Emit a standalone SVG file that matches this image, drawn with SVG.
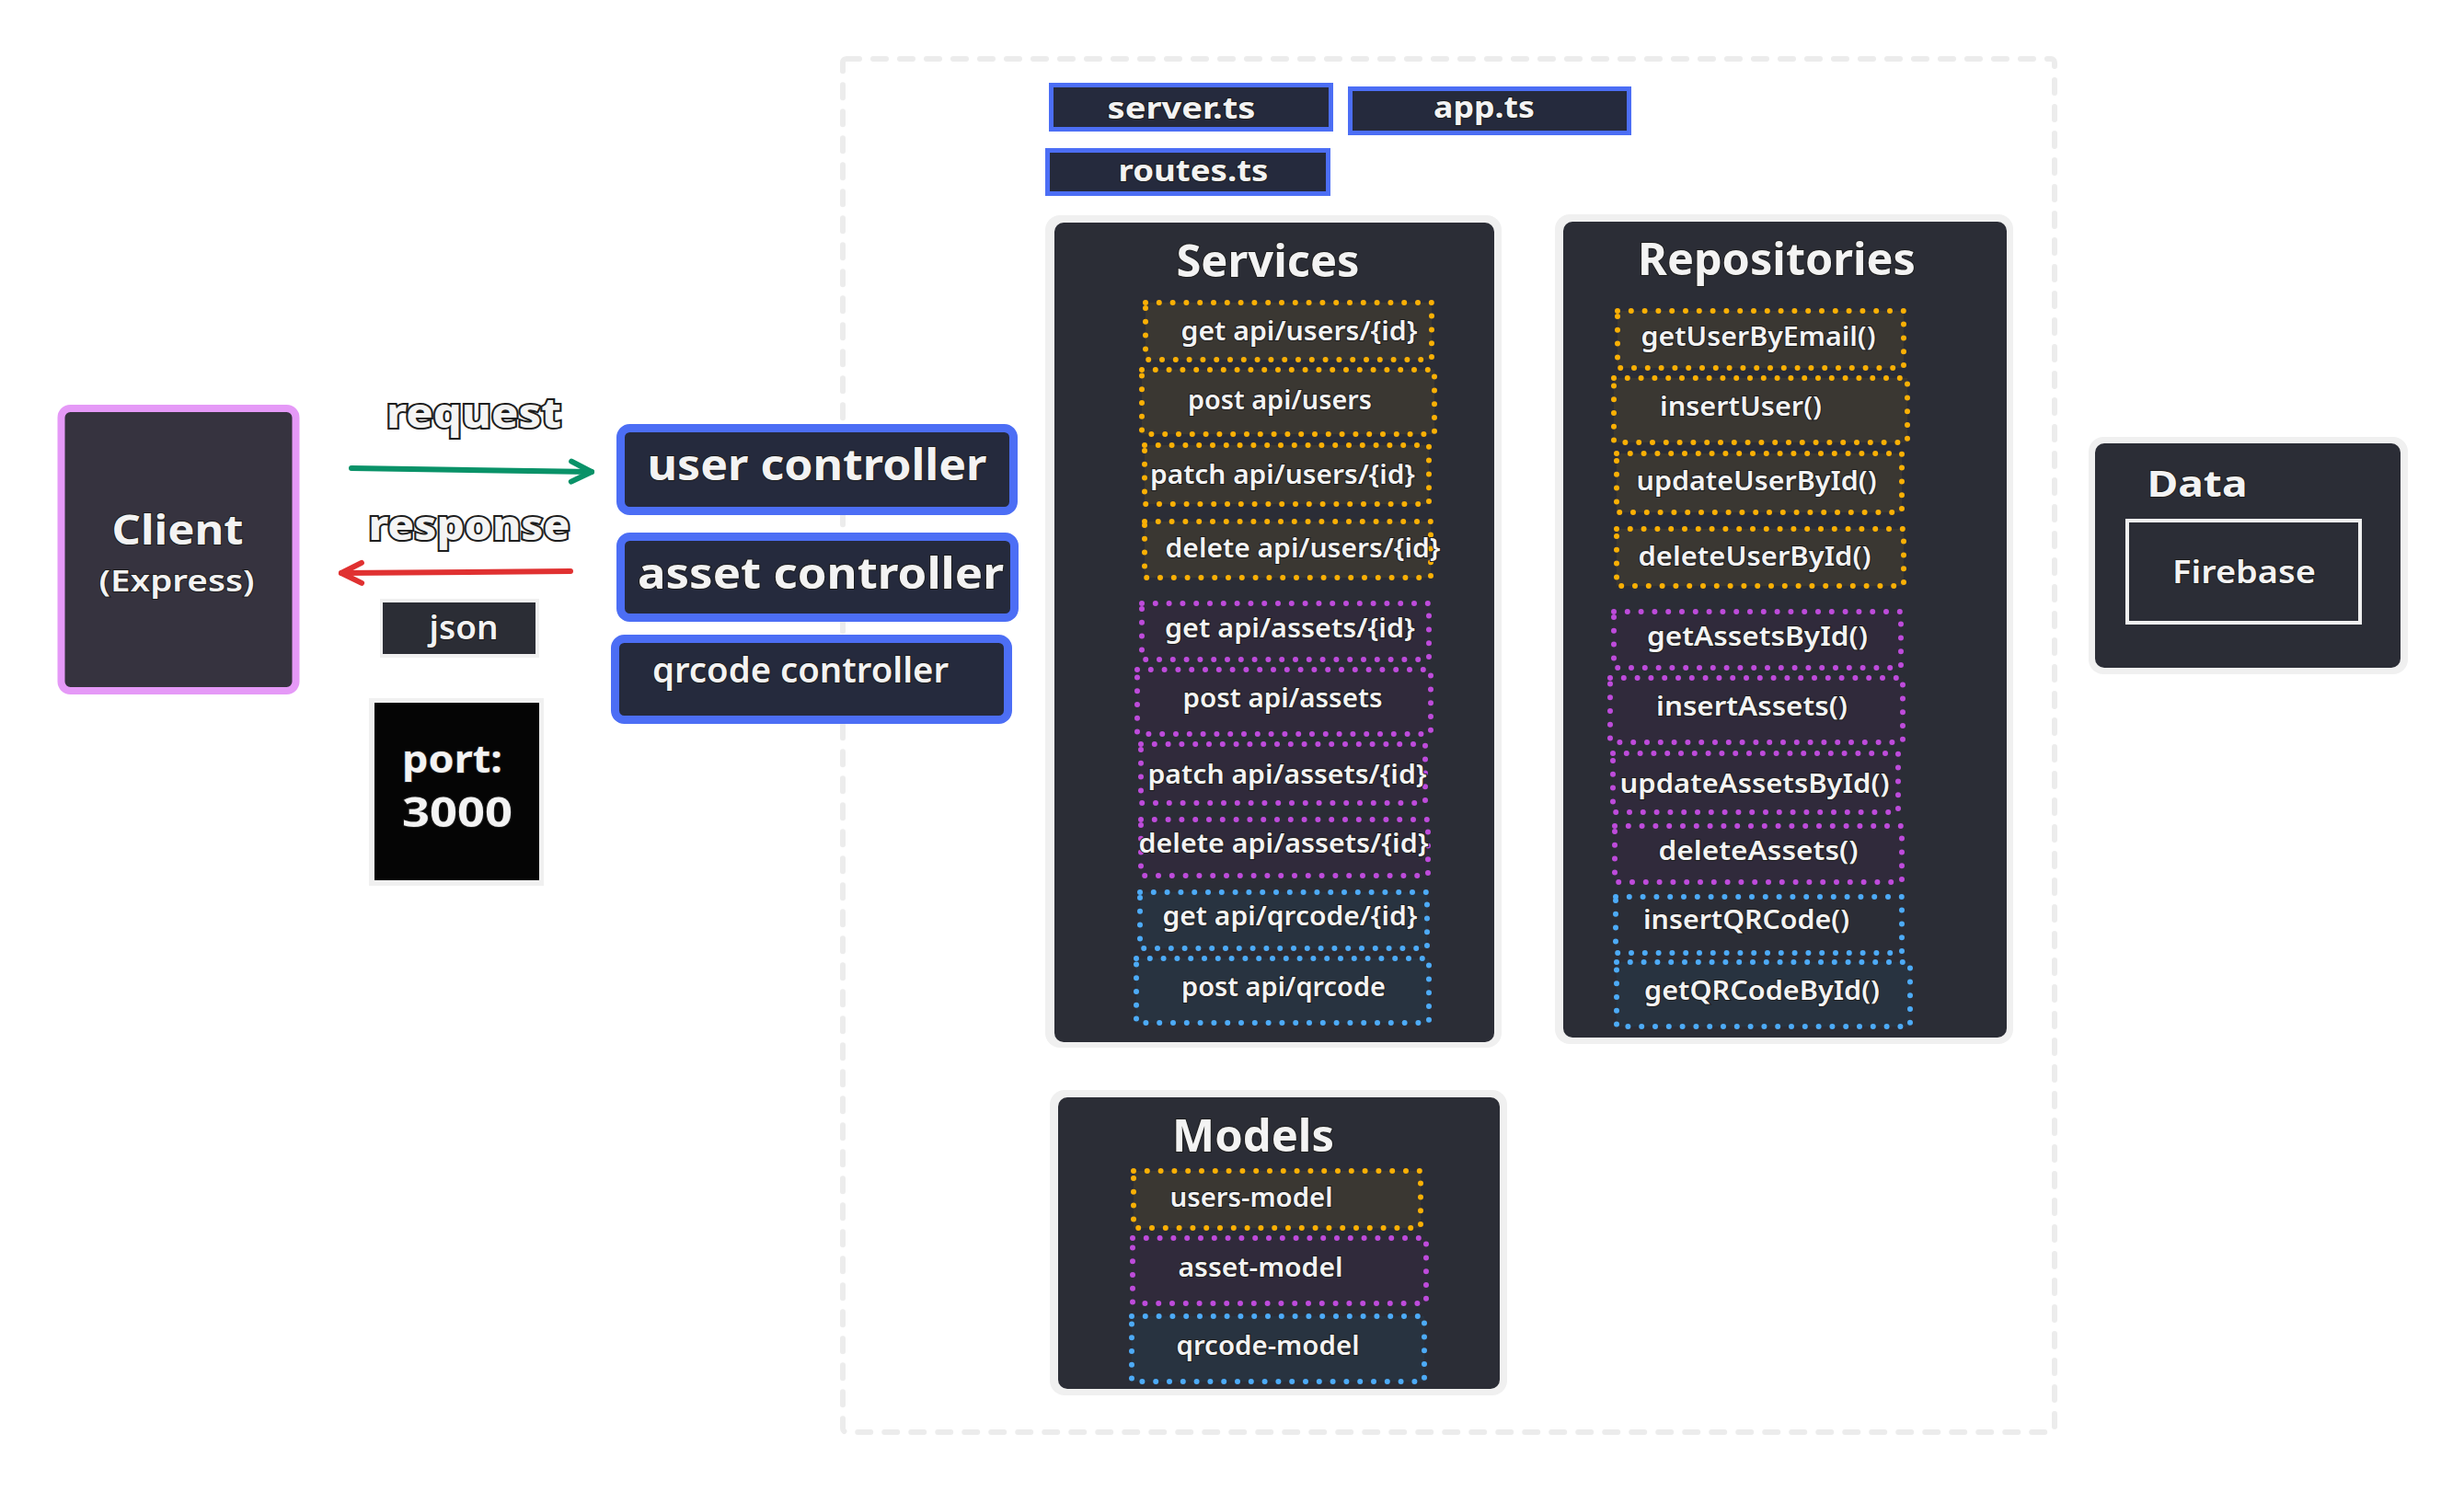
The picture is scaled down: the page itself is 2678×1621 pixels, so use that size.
<svg xmlns="http://www.w3.org/2000/svg" width="2678" height="1621" viewBox="0 0 2678 1621">
<defs>
<style>
.t{font-family:"Noto Sans","Open Sans",sans-serif;fill:#f3f3f3;stroke:#1e1e1e;stroke-width:2;paint-order:stroke;text-anchor:middle;font-weight:600}
.b{font-weight:700}
.lbl{font-weight:800;fill:#f4f4f4;stroke:#1e1e1e;stroke-width:4}
.item{font-size:28px}
.title{font-size:48px;font-weight:700}
.file{font-size:33px;font-weight:700}
.ctl{font-size:46px}
.frame{fill:#f0f0f0}
.panel{fill:#2b2d36}
.dot{stroke-width:6;stroke-dasharray:0 14.8;stroke-linecap:round}
.o{stroke:#fab005;fill:#3a3732}
.p{stroke:#be4bdb;fill:#302a3b}
.c{stroke:#4dabf7;fill:#283340}
.blue{fill:#252a3d;stroke:#4c6ef5}
.conn{fill:none;stroke-width:6;stroke-linecap:round}
</style>
<marker id="ahG" viewBox="0 0 30 30" refX="26" refY="15" markerWidth="30" markerHeight="30" markerUnits="userSpaceOnUse" orient="auto" overflow="visible">
<path d="M4,4 L26,15 L4,26" fill="none" stroke="#099268" stroke-width="6" stroke-linecap="round" stroke-linejoin="round"/>
</marker>
<marker id="ahR" viewBox="0 0 30 30" refX="26" refY="15" markerWidth="30" markerHeight="30" markerUnits="userSpaceOnUse" orient="auto" overflow="visible">
<path d="M4,4 L26,15 L4,26" fill="none" stroke="#e03131" stroke-width="6" stroke-linecap="round" stroke-linejoin="round"/>
</marker>
</defs>
<rect width="2678" height="1621" fill="#ffffff"/>

<g id="container">
<rect x="916" y="64" width="1317" height="1493" rx="4" fill="none" stroke="#ececec" stroke-width="6" stroke-dasharray="14 15" stroke-linecap="round"/>
</g>

<g id="client">
<rect x="66.5" y="444" width="255" height="307" rx="10" fill="#36333f" stroke="#e599f7" stroke-width="8"/>
<text class="t b" x="193" y="592" font-size="44" textLength="143" lengthAdjust="spacingAndGlyphs">Client</text>
<text class="t" x="192" y="643" font-size="33" textLength="169" lengthAdjust="spacingAndGlyphs">(Express)</text>
</g>

<g id="label-request">
<text class="t lbl" x="515" y="465" font-size="44" textLength="190" lengthAdjust="spacingAndGlyphs">request</text>
</g>
<g id="label-response">
<text class="t lbl" x="510" y="587" font-size="44" textLength="219" lengthAdjust="spacingAndGlyphs">response</text>
</g>

<g id="json">
<rect x="413" y="651" width="173" height="64" class="frame"/>
<rect x="416" y="655" width="166" height="56" fill="#2b2d35"/>
<text class="t" x="504" y="695" font-size="36" textLength="75" lengthAdjust="spacingAndGlyphs">json</text>
</g>

<g id="port">
<rect x="401" y="759" width="190" height="204" class="frame"/>
<rect x="407" y="764" width="179" height="193" fill="#050505"/>
<text class="t b" x="437" y="840" font-size="42" style="text-anchor:start" textLength="109" lengthAdjust="spacingAndGlyphs">port:</text>
<text class="t b" x="437" y="899" font-size="44" style="text-anchor:start" textLength="120" lengthAdjust="spacingAndGlyphs">3000</text>
</g>

<g id="user-controller">
<rect x="674.5" y="465.5" width="427" height="90" rx="10" class="blue" stroke-width="9"/>
<text class="t b ctl" x="888" y="522" textLength="369" lengthAdjust="spacingAndGlyphs">user controller</text>
</g>
<g id="asset-controller">
<rect x="674.5" y="583.5" width="428" height="88" rx="10" class="blue" stroke-width="9"/>
<text class="t b ctl" x="892" y="640" textLength="398" lengthAdjust="spacingAndGlyphs">asset controller</text>
</g>
<g id="qrcode-controller">
<rect x="668.5" y="694.5" width="427" height="88" rx="10" class="blue" stroke-width="9"/>
<text class="t" x="870" y="742" font-size="38" textLength="322" lengthAdjust="spacingAndGlyphs">qrcode controller</text>
</g>

<g id="server-ts">
<rect x="1142.5" y="92.5" width="304" height="48" class="blue" stroke-width="5"/>
<text class="t file" x="1284" y="129" textLength="161" lengthAdjust="spacingAndGlyphs">server.ts</text>
</g>
<g id="app-ts">
<rect x="1467.5" y="96.5" width="303" height="48" class="blue" stroke-width="5"/>
<text class="t file" x="1613" y="128" textLength="110" lengthAdjust="spacingAndGlyphs">app.ts</text>
</g>
<g id="routes-ts">
<rect x="1138.5" y="163.5" width="305" height="47" class="blue" stroke-width="5"/>
<text class="t file" x="1297" y="197" textLength="163" lengthAdjust="spacingAndGlyphs">routes.ts</text>
</g>

<g id="services">
<rect x="1136" y="234" width="496" height="905" rx="16" class="frame"/>
<rect x="1146" y="242" width="478" height="891" rx="10" class="panel"/>
<text class="t title" x="1378" y="301" textLength="199" lengthAdjust="spacingAndGlyphs">Services</text>
<rect class="dot o" x="1245" y="329" width="311" height="62"/>
<text class="t item" x="1412" y="370" textLength="257" lengthAdjust="spacingAndGlyphs">get api/users/{id}</text>
<rect class="dot o" x="1241" y="402" width="318" height="70"/>
<text class="t item" x="1391" y="445" textLength="200" lengthAdjust="spacingAndGlyphs">post api/users</text>
<rect class="dot o" x="1244" y="484" width="309" height="64"/>
<text class="t item" x="1394" y="526" textLength="288" lengthAdjust="spacingAndGlyphs">patch api/users/{id}</text>
<rect class="dot o" x="1244" y="567" width="311" height="61"/>
<text class="t item" x="1416" y="606" textLength="299" lengthAdjust="spacingAndGlyphs">delete api/users/{id}</text>
<rect class="dot p" x="1241" y="656" width="312" height="61"/>
<text class="t item" x="1402" y="693" textLength="272" lengthAdjust="spacingAndGlyphs">get api/assets/{id}</text>
<rect class="dot p" x="1236" y="728" width="319" height="70"/>
<text class="t item" x="1394" y="769" textLength="217" lengthAdjust="spacingAndGlyphs">post api/assets</text>
<rect class="dot p" x="1240" y="809" width="309" height="64"/>
<text class="t item" x="1399" y="852" textLength="303" lengthAdjust="spacingAndGlyphs">patch api/assets/{id}</text>
<rect class="dot p" x="1240" y="891" width="312" height="61"/>
<text class="t item" x="1395" y="927" textLength="315" lengthAdjust="spacingAndGlyphs">delete api/assets/{id}</text>
<rect class="dot c" x="1239" y="970" width="312" height="61"/>
<text class="t item" x="1402" y="1006" textLength="277" lengthAdjust="spacingAndGlyphs">get api/qrcode/{id}</text>
<rect class="dot c" x="1235" y="1042" width="318" height="70"/>
<text class="t item" x="1395" y="1083" textLength="222" lengthAdjust="spacingAndGlyphs">post api/qrcode</text>
</g>

<g id="repositories">
<rect x="1690" y="233" width="498" height="902" rx="16" class="frame"/>
<rect x="1699" y="241" width="482" height="887" rx="10" class="panel"/>
<text class="t title" x="1931" y="299" textLength="302" lengthAdjust="spacingAndGlyphs">Repositories</text>
<rect class="dot o" x="1758" y="338" width="311" height="62"/>
<text class="t item" x="1911" y="376" textLength="255" lengthAdjust="spacingAndGlyphs">getUserByEmail()</text>
<rect class="dot o" x="1754" y="411" width="319" height="70"/>
<text class="t item" x="1892" y="452" textLength="176" lengthAdjust="spacingAndGlyphs">insertUser()</text>
<rect class="dot o" x="1757" y="493" width="310" height="64"/>
<text class="t item" x="1909" y="533" textLength="261" lengthAdjust="spacingAndGlyphs">updateUserById()</text>
<rect class="dot o" x="1757" y="575" width="312" height="62"/>
<text class="t item" x="1907" y="615" textLength="253" lengthAdjust="spacingAndGlyphs">deleteUserById()</text>
<rect class="dot p" x="1754" y="665" width="312" height="61"/>
<text class="t item" x="1910" y="702" textLength="240" lengthAdjust="spacingAndGlyphs">getAssetsById()</text>
<rect class="dot p" x="1750" y="737" width="318" height="70"/>
<text class="t item" x="1904" y="778" textLength="208" lengthAdjust="spacingAndGlyphs">insertAssets()</text>
<rect class="dot p" x="1753" y="819" width="310" height="64"/>
<text class="t item" x="1907" y="862" textLength="293" lengthAdjust="spacingAndGlyphs">updateAssetsById()</text>
<rect class="dot p" x="1755" y="898" width="312" height="61"/>
<text class="t item" x="1911" y="935" textLength="217" lengthAdjust="spacingAndGlyphs">deleteAssets()</text>
<rect class="dot c" x="1756" y="975" width="311" height="61" style="fill:none"/>
<text class="t item" x="1898" y="1010" textLength="224" lengthAdjust="spacingAndGlyphs">insertQRCode()</text>
<rect class="dot c" x="1757" y="1046" width="319" height="70"/>
<text class="t item" x="1915" y="1087" textLength="256" lengthAdjust="spacingAndGlyphs">getQRCodeById()</text>
</g>

<g id="models">
<rect x="1141" y="1185" width="497" height="332" rx="16" class="frame"/>
<rect x="1150" y="1193" width="480" height="317" rx="10" class="panel"/>
<text class="t title" x="1362" y="1252" font-size="45" textLength="176" lengthAdjust="spacingAndGlyphs">Models</text>
<rect class="dot o" x="1232" y="1273" width="312" height="62"/>
<text class="t item" x="1360" y="1312" textLength="177" lengthAdjust="spacingAndGlyphs">users-model</text>
<rect class="dot p" x="1231" y="1346" width="319" height="71"/>
<text class="t item" x="1370" y="1388" textLength="179" lengthAdjust="spacingAndGlyphs">asset-model</text>
<rect class="dot c" x="1230" y="1431" width="318" height="71"/>
<text class="t item" x="1378" y="1473" textLength="199" lengthAdjust="spacingAndGlyphs">qrcode-model</text>
</g>

<g id="data">
<rect x="2270" y="475" width="347" height="258" rx="16" class="frame"/>
<rect x="2277" y="482" width="332" height="244" rx="10" class="panel"/>
<text class="t b" x="2388" y="540" font-size="40" textLength="109" lengthAdjust="spacingAndGlyphs">Data</text>
<rect x="2312" y="566" width="253" height="111" fill="none" stroke="#f0f0f0" stroke-width="4"/>
<text class="t" x="2439" y="634" font-size="34" textLength="156" lengthAdjust="spacingAndGlyphs">Firebase</text>
</g>

<g id="connectors">
<path class="conn" d="M382,509 L643,513" stroke="#099268" marker-end="url(#ahG)"/>
<path class="conn" d="M620,621 L371,623" stroke="#e03131" marker-end="url(#ahR)"/>
</g>
</svg>
